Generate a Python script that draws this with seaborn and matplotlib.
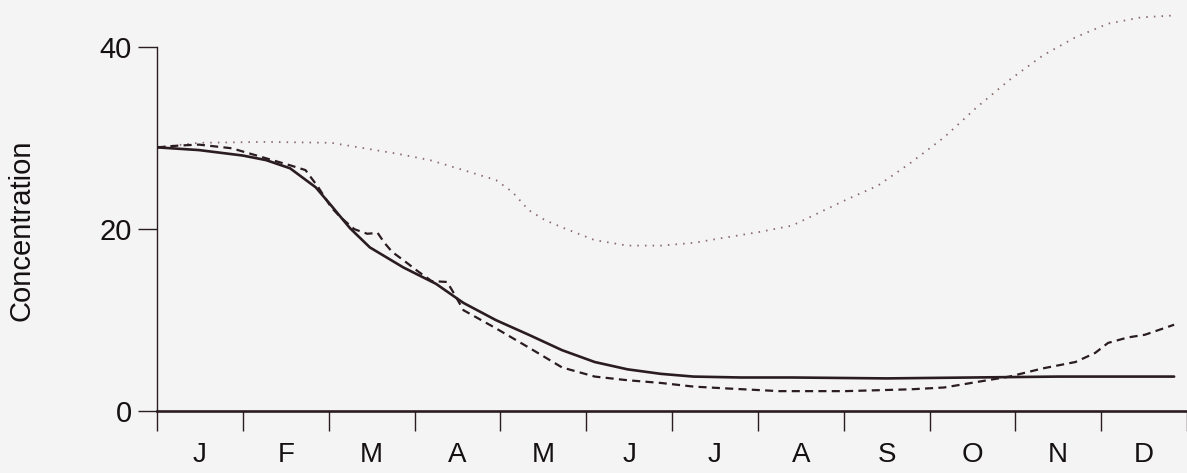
import matplotlib
matplotlib.use("Agg")
import matplotlib.pyplot as plt
import seaborn as sns
import pandas as pd

# Month positions (0 = start of January) and concentrations for each series
solid_month = [0.0, 0.49, 1.0, 1.27, 1.55, 1.85, 2.03, 2.10, 2.25, 2.48, 2.87,
               3.25, 3.57, 3.95, 4.33, 4.72, 5.10, 5.48, 5.87, 6.25, 6.8, 7.4,
               8.5, 9.5, 10.5, 11.85]
solid_conc = [29.0, 28.7, 28.1, 27.6, 26.7, 24.6, 22.6, 21.8, 20.1, 18.0, 15.8,
              14.0, 11.9, 10.0, 8.4, 6.7, 5.4, 4.6, 4.1, 3.8, 3.7, 3.7,
              3.6, 3.7, 3.8, 3.8]

dashed_month = [0.0, 0.26, 0.49, 0.87, 1.27, 1.56, 1.73, 1.88, 2.03, 2.14, 2.30,
                2.45, 2.57, 2.65, 2.74, 2.87, 3.05, 3.20, 3.38, 3.45, 3.57, 3.95,
                4.33, 4.72, 5.10, 5.48, 5.87, 6.25, 6.63, 7.25, 8.02, 8.78, 9.17,
                9.55, 9.93, 10.32, 10.70, 10.93, 11.08, 11.31, 11.51, 11.85]
dashed_conc = [29.0, 29.2, 29.3, 28.9, 27.8, 27.0, 26.5, 24.6, 22.4, 21.3, 20.0,
               19.5, 19.6, 18.5, 17.5, 16.6, 15.3, 14.3, 14.2, 13.1, 11.1, 9.1,
               7.0, 4.8, 3.8, 3.4, 3.1, 2.7, 2.5, 2.2, 2.2, 2.4, 2.6,
               3.2, 3.8, 4.7, 5.4, 6.4, 7.5, 8.1, 8.4, 9.5]

dotted_month = [0.0, 0.49, 1.27, 2.03, 2.80, 3.18, 3.57, 3.95, 4.14, 4.33, 4.52,
                4.72, 5.10, 5.48, 5.87, 6.25, 6.63, 7.02, 7.40, 8.02, 8.40, 8.78,
                9.17, 9.55, 9.93, 10.32, 10.70, 11.08, 11.47, 11.85]
dotted_conc = [29.0, 29.5, 29.6, 29.5, 28.3, 27.6, 26.5, 25.4, 24.1, 22.1, 21.0,
               20.2, 18.8, 18.2, 18.2, 18.5, 19.1, 19.7, 20.4, 23.2, 24.8, 27.3,
               30.1, 33.4, 36.4, 39.1, 41.1, 42.6, 43.3, 43.5]

month_labels = ["J", "F", "M", "A", "M", "J", "J", "A", "S", "O", "N", "D"]
y_ticks = [0, 20, 40]

sns.set_theme(style="ticks")
plt.rcParams["font.family"] = ["Liberation Sans", "DejaVu Sans"]
plt.rcParams["lines.scale_dashes"] = False

bg = "#f4f4f4"
ink = "#2a1c20"
text_color = "#151012"

fig = plt.figure(figsize=(11.87, 4.73), dpi=100, facecolor=bg)
ax = fig.add_axes([157 / 1187, 0.0, 1 - 157 / 1187, 1.0])
ax.set_facecolor(bg)

solid = pd.DataFrame({"month": solid_month, "conc": solid_conc})
dashed = pd.DataFrame({"month": dashed_month, "conc": dashed_conc})
dotted = pd.DataFrame({"month": dotted_month, "conc": dotted_conc})

sns.lineplot(data=dotted, x="month", y="conc", ax=ax, color="#8a6a6c",
             linewidth=1.3, linestyle=(0, (1.1, 4.4)), sort=False, estimator=None)
sns.lineplot(data=dashed, x="month", y="conc", ax=ax, color=ink,
             linewidth=1.6, linestyle=(0, (5.8, 3.8)), sort=False, estimator=None)
sns.lineplot(data=solid, x="month", y="conc", ax=ax, color=ink,
             linewidth=1.9, sort=False, estimator=None)

ax.set_xlim(0, 11.85)
ax.set_ylim(-6.8, 45.2)

# Spines: y axis from 0 to 40, x axis along zero
ax.spines["top"].set_visible(False)
ax.spines["right"].set_visible(False)
ax.spines["left"].set_bounds(0, 40)
ax.spines["left"].set_color(ink)
ax.spines["left"].set_linewidth(1.0)
ax.spines["bottom"].set_position(("data", 0))
ax.spines["bottom"].set_color(ink)
ax.spines["bottom"].set_linewidth(1.9)

ax.set_yticks(y_ticks)
ax.set_yticklabels([str(v) for v in y_ticks])
ax.tick_params(axis="y", direction="out", length=14, width=1.0, color=ink,
               pad=4, labelsize=21, labelcolor=text_color)

ax.set_xticks(range(0, 13))
ax.set_xticklabels([])
ax.set_xticks([m + 0.5 for m in range(12)], minor=True)
ax.set_xticklabels(month_labels, minor=True)
ax.tick_params(axis="x", which="major", direction="out", length=14.4, width=1.0,
               color=ink)
ax.tick_params(axis="x", which="minor", length=0, pad=22, labelsize=20,
               labelcolor=text_color)

ax.set_xlabel("")
ax.set_ylabel("")
fig.text(22 / 1187, 1 - 230 / 473, "Concentration", rotation=90, ha="center",
         va="center", fontsize=21, color=text_color)

fig.savefig("out.png", dpi=100, facecolor=bg)
